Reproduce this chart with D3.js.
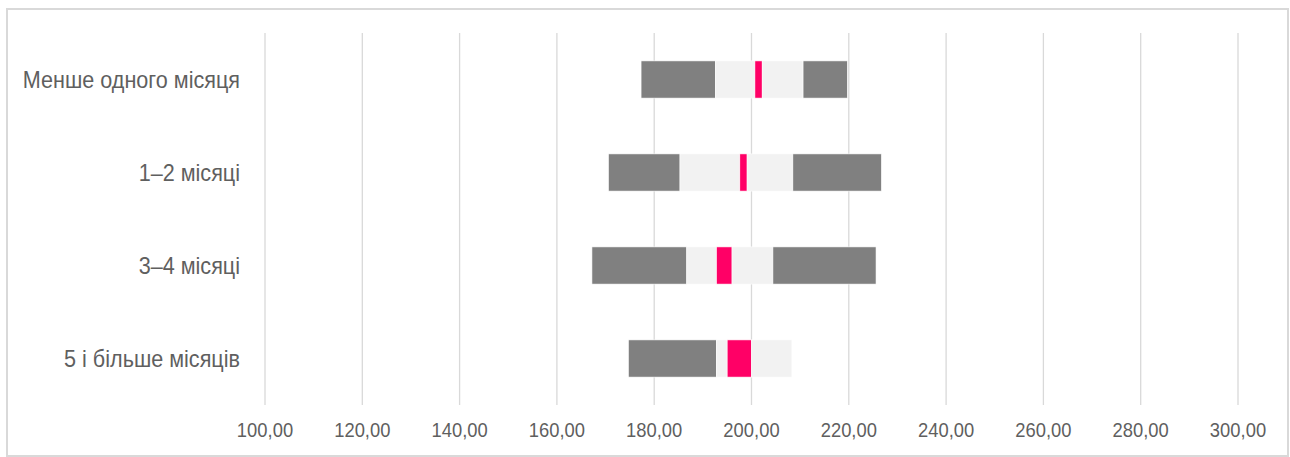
<!DOCTYPE html>
<html>
<head>
<meta charset="utf-8">
<script src="https://cdn.jsdelivr.net/npm/d3@7"></script>
<style>
  body { margin: 0; background: #fff; }
  text { font-family: "Liberation Sans", Arial, sans-serif; fill: #5f5f5f; }
</style>
</head>
<body>
<div id="chart"></div>
<script>
var svgWidth = 1290;
var svgHeight = 457;

// categories, top to bottom
var categories = ["Менше одного місяця", "1–2 місяці", "3–4 місяці", "5 і більше місяців"];

// segment boundaries (start of each stacked piece, last = end)
var lowStart  = [177.3, 170.6, 167.2, 174.7];
var lowEnd    = [192.6, 185.3, 186.7, 192.8];
var markStart = [200.7, 197.6, 192.8, 195.0];
var markEnd   = [202.2, 199.1, 196.0, 200.0];
var highStart = [210.6, 208.5, 204.4, 208.3];
var highEnd   = [219.7, 226.7, 225.6, 208.3];

var tickValues = [100, 120, 140, 160, 180, 200, 220, 240, 260, 280, 300];

var margin = { top: 33, right: 52, bottom: 52, left: 265 };
var width = 973;
var height = 372;

var svg = d3.select("#chart")
.append("svg")
.attr("width", svgWidth)
.attr("height", svgHeight);

// outer frame
svg.append("rect")
.attr("x", 7)
.attr("y", 9)
.attr("width", 1281)
.attr("height", 447)
.attr("fill", "none")
.attr("stroke", "#d9d9d9")
.attr("stroke-width", 2);

var chartGroup = svg.append("g")
.attr("transform", `translate(${margin.left},${margin.top})`);

var xScale = d3.scaleLinear()
.domain([100, 300])
.range([0, width]);

var yScale = d3.scaleBand()
.domain(categories)
.range([0, height])
.paddingInner(0.6)
.paddingOuter(0.3);

// gridlines
chartGroup.append("g")
.selectAll("line")
.data(tickValues)
.enter()
.append("line")
.attr("x1", d => xScale(d))
.attr("x2", d => xScale(d))
.attr("y1", 0)
.attr("y2", height)
.attr("stroke", "#d9d9d9")
.attr("stroke-width", 1.3);

// build stacked segments
var segments = [];
categories.forEach(function(c, i) {
    segments.push({ cat: c, from: lowStart[i], to: lowEnd[i], fill: "#808080" });
    segments.push({ cat: c, from: lowEnd[i], to: markStart[i], fill: "#f2f2f2" });
    segments.push({ cat: c, from: markStart[i], to: markEnd[i], fill: "#ff0066" });
    segments.push({ cat: c, from: markEnd[i], to: highStart[i], fill: "#f2f2f2" });
    segments.push({ cat: c, from: highStart[i], to: highEnd[i], fill: "#808080" });
});

chartGroup.append("g")
.selectAll("rect")
.data(segments.filter(d => d.to > d.from))
.enter()
.append("rect")
.attr("x", d => xScale(d.from))
.attr("width", d => xScale(d.to) - xScale(d.from))
.attr("y", d => yScale(d.cat))
.attr("height", yScale.bandwidth())
.attr("fill", d => d.fill)
.attr("stroke", "#ffffff")
.attr("stroke-width", 0.6);

// x tick labels
var fmt = d => d3.format(".2f")(d).replace(".", ",");
chartGroup.append("g")
.selectAll("text")
.data(tickValues)
.enter()
.append("text")
.attr("transform", d => `translate(${xScale(d)}, ${436.5 - margin.top}) scale(0.92,1)`)
.attr("text-anchor", "middle")
.attr("font-size", "20px")
.text(fmt);

// category labels
chartGroup.append("g")
.selectAll("text")
.data(categories)
.enter()
.append("text")
.attr("transform", d => `translate(-25, ${yScale(d) + yScale.bandwidth() / 2 + 8.5}) scale(0.9,1)`)
.attr("text-anchor", "end")
.attr("font-size", "24px")
.text(d => d);
</script>
</body>
</html>
